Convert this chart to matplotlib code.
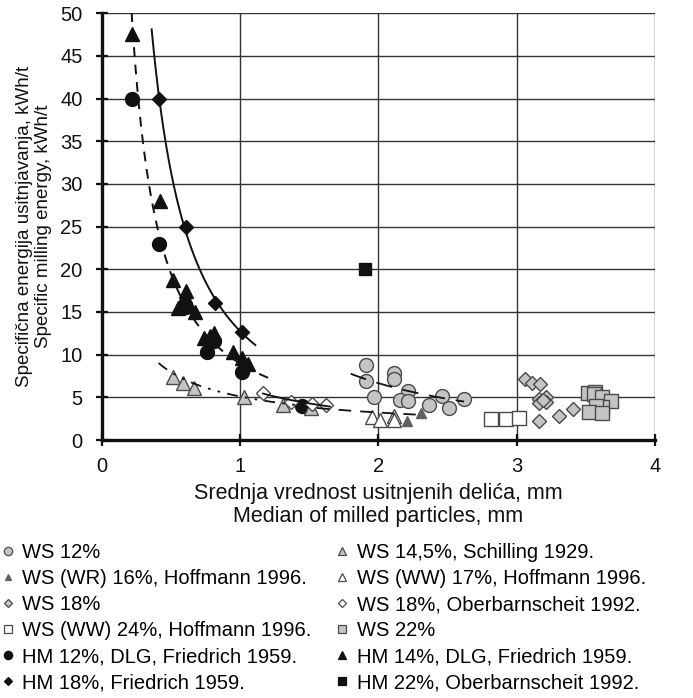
import numpy as np
import matplotlib
matplotlib.use("Agg")
import matplotlib.pyplot as plt
from matplotlib.lines import Line2D

plt.rcParams['font.family'] = ['Liberation Sans', 'DejaVu Sans']

# ---------------- data ----------------
ws12_x = [1.91, 1.91, 1.97, 2.11, 2.11, 2.215, 2.16, 2.215, 2.365, 2.46, 2.51, 2.62]
ws12_y = [8.8, 6.9, 5.0, 7.9, 7.2, 5.8, 4.7, 4.6, 4.15, 5.1, 3.7, 4.8]

ws145_x = [0.516, 0.59, 0.665, 1.03, 1.31, 1.51]
ws145_y = [7.35, 6.7, 6.1, 5.0, 4.15, 3.7]

wswr16_x = [2.21, 2.31]
wswr16_y = [2.25, 3.2]

wsww17_x = [1.955, 2.01, 2.115, 2.11]
wsww17_y = [2.7, 2.35, 2.85, 2.3]

ws18_x = [3.06, 3.11, 3.17, 3.16, 3.215, 3.16, 3.215, 3.19, 3.16, 3.31, 3.41]
ws18_y = [7.2, 6.7, 6.6, 4.8, 5.0, 4.3, 4.5, 4.7, 2.2, 2.8, 3.6]

ws18ob_x = [1.165, 1.365, 1.52, 1.62]
ws18ob_y = [5.5, 4.4, 4.25, 4.1]

wsww24_x = [2.815, 2.92, 3.02]
wsww24_y = [2.45, 2.45, 2.6]

ws22_x = [3.515, 3.57, 3.56, 3.62, 3.68, 3.62, 3.575, 3.525, 3.62]
ws22_y = [5.5, 5.65, 5.4, 5.05, 4.6, 3.85, 4.0, 3.3, 3.15]

hm12_x = [0.215, 0.415, 0.61, 0.81, 0.76, 1.01, 1.444]
hm12_y = [40.0, 23.0, 15.6, 11.6, 10.3, 8.0, 4.0]

hm14_x = [0.215, 0.42, 0.516, 0.61, 0.60, 0.55, 0.67, 0.74, 0.78, 0.81, 0.95, 1.01, 1.06]
hm14_y = [47.6, 28.0, 18.7, 17.5, 16.9, 15.5, 15.0, 11.9, 12.2, 12.5, 10.3, 9.6, 8.9]

hm18_x = [0.415, 0.61, 0.82, 1.01]
hm18_y = [40.0, 25.0, 16.1, 12.6]

hm22_x = [1.90]
hm22_y = [20.0]

# trend lines: power law y = a * x**b, drawn over [x0, x1]
trend_hm18 = dict(a=12.75, b=-1.30, x0=0.36, x1=1.11)
trend_hm1214 = dict(a=8.96, b=-1.12, x0=0.215, x1=1.215)
trend_ws145 = dict(a=5.1, b=-0.64, x0=0.41, x1=1.45)
trend_ws18ob = dict(a=6.3, b=-0.95, x0=1.165, x1=1.65)
trend_wsfine = dict(a=4.9, b=-0.606, x0=1.40, x1=2.27)
trend_ws12 = dict(a=18.2, b=-1.45, x0=1.80, x1=2.62)

x_ticks = [0, 1, 2, 3, 4]
y_ticks = [0, 5, 10, 15, 20, 25, 30, 35, 40, 45, 50]

# ---------------- figure ----------------
fig = plt.figure(figsize=(6.93, 6.98), dpi=100)
ax = fig.add_axes([0.147, 0.3696, 0.798, 0.6114])

ax.set_xlim(0, 4)
ax.set_ylim(0, 50)
ax.set_xticks(x_ticks)
ax.set_yticks(y_ticks)
ax.grid(True, color='#333333', linewidth=1.0)
ax.set_axisbelow(True)
for s in ['top', 'right']:
    ax.spines[s].set_visible(False)
for s in ['left', 'bottom']:
    ax.spines[s].set_linewidth(2.4)
    ax.spines[s].set_color('#111111')
ax.tick_params(direction='inout', length=9, width=1.6, labelsize=14.5,
               colors='#111111')
ax.tick_params(axis='x', pad=7.5)
ax.tick_params(axis='y', pad=9.5)

EDGE = '#4a4a4a'
GREY = '#c4c4c4'
series_left = [
    # label, x, y, marker, size, face, edge
    ('WS 12%', ws12_x, ws12_y, 'o', 10, GREY, EDGE),
    ('WS (WR) 16%, Hoffmann 1996.', wswr16_x, wswr16_y, '^', 6.5, '#606060', '#606060'),
    ('WS 18%', ws18_x, ws18_y, 'D', 7.5, GREY, EDGE),
    ('WS (WW) 24%, Hoffmann 1996.', wsww24_x, wsww24_y, 's', 10, 'white', EDGE),
    ('HM 12%, DLG, Friedrich 1959.', hm12_x, hm12_y, 'o', 10, '#111111', '#111111'),
    ('HM 18%, Friedrich 1959.', hm18_x, hm18_y, 'D', 7.0, '#111111', '#111111'),
]
series_right = [
    ('WS 14,5%, Schilling 1929.', ws145_x, ws145_y, '^', 10.5, GREY, EDGE),
    ('WS (WW) 17%, Hoffmann 1996.', wsww17_x, wsww17_y, '^', 10.5, 'white', EDGE),
    ('WS 18%, Oberbarnscheit 1992.', ws18ob_x, ws18ob_y, 'D', 7.5, 'white', EDGE),
    ('WS 22%', ws22_x, ws22_y, 's', 10.5, GREY, EDGE),
    ('HM 14%, DLG, Friedrich 1959.', hm14_x, hm14_y, '^', 10.5, '#111111', '#111111'),
    ('HM 22%, Oberbarnscheit 1992.', hm22_x, hm22_y, 's', 8.5, '#111111', '#111111'),
]


def draw_series(lst):
    hs = []
    for lab, xs, ys, m, ms, fc, ec in lst:
        ax.plot(xs, ys, linestyle='none', marker=m, markersize=ms,
                markerfacecolor=fc, markeredgecolor=ec, markeredgewidth=1.0,
                zorder=3, clip_on=False)
        hs.append(Line2D([], [], linestyle='none', marker=m, markersize=ms * 0.6,
                         markerfacecolor=fc, markeredgecolor=ec, markeredgewidth=0.9,
                         label=lab))
    return hs


handles_left = draw_series(series_left)
handles_right = draw_series(series_right)


def draw_trend(t, **kw):
    xs = np.linspace(t['x0'], t['x1'], 200)
    ax.plot(xs, t['a'] * xs ** t['b'], color='#111111', zorder=4, **kw)


draw_trend(trend_hm18, linewidth=1.4, linestyle='-')
draw_trend(trend_hm1214, linewidth=1.4, linestyle=(0, (5, 4)))
draw_trend(trend_ws145, linewidth=1.3, linestyle=(0, (6, 4, 1.5, 4, 1.5, 4)))
draw_trend(trend_ws18ob, linewidth=1.3, linestyle='-')
draw_trend(trend_wsfine, linewidth=1.3, linestyle=(0, (7, 5)))
draw_trend(trend_ws12, linewidth=1.3, linestyle=(0, (9, 6)))

ax.set_xlabel('Srednja vrednost usitnjenih delića, mm\nMedian of milled particles, mm',
              fontsize=15.5, color='#111111', labelpad=5, linespacing=1.15)
ax.set_ylabel('Specifična energija usitnjavanja, kWh/t\nSpecific milling energy, kWh/t',
              fontsize=13.5, color='#111111', labelpad=6, linespacing=1.17)

leg_kw = dict(loc='upper left', frameon=False, fontsize=14.5, handlelength=0.75,
              handletextpad=0.35, labelspacing=0.35, borderpad=0.0, borderaxespad=0.0)
leg1 = fig.legend(handles=handles_left, bbox_to_anchor=(0.0, 0.222), **leg_kw)
leg2 = fig.legend(handles=handles_right, bbox_to_anchor=(0.483, 0.222), **leg_kw)

fig.savefig('out.png', dpi=100)
